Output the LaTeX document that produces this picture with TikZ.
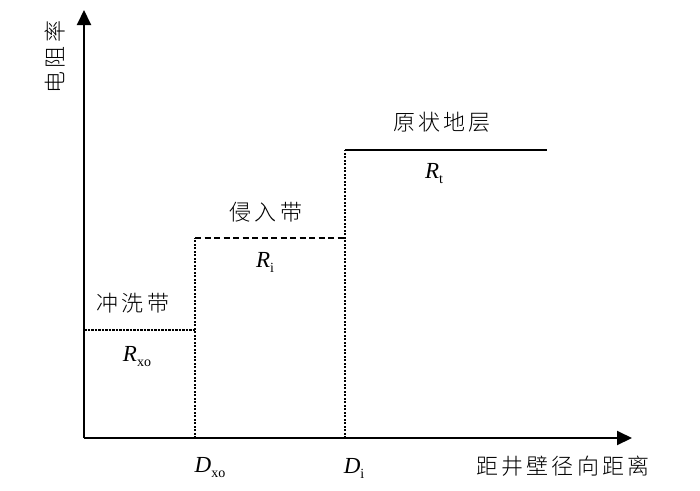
\documentclass[tikz,border=0pt]{standalone}
\usepackage{fontspec}
\setmainfont{Liberation Serif}
\newfontfamily\cjk{Noto Sans CJK SC Light}[LetterSpace=14]
\usetikzlibrary{arrows.meta}
\newcommand{\Rv}[2]{\textit{#1}\raisebox{-5pt}{\fontsize{14}{14}\selectfont #2}}
\begin{document}
\begin{tikzpicture}[x=1pt,y=-1pt,
  axis/.style={line width=2pt,-{Triangle[length=15pt,width=14pt]}},
  lvl/.style={line width=2pt},
  dotv/.style={line width=2.4pt,dash pattern=on 2pt off 1.5pt},
  dashh/.style={line width=2pt,dash pattern=on 6pt off 3.5pt},
  zh/.style={font=\cjk\fontsize{22}{22}\selectfont},
  lab/.style={font=\fontsize{23}{23}\selectfont}]
\useasboundingbox (0,0) rectangle (700,490);
\coordinate (O) at (84,438);
\coordinate (ytip) at (84,10);
\coordinate (xtip) at (632,438);
\draw[axis] (O) -- (ytip);
\draw[axis] (O) -- (xtip);
% levels
\coordinate (a1) at (84,330); \coordinate (a2) at (195,330);
\coordinate (b0) at (195,438); \coordinate (b1) at (195,238); \coordinate (b2) at (345,238);
\coordinate (c0) at (345,438); \coordinate (c1) at (345,150); \coordinate (c2) at (547,150);
\draw[line width=2pt,dash pattern=on 2.5pt off 1pt] (a1) -- (a2);
\draw[dotv] (b0) -- (b1);
\draw[dashh] (b1) -- (b2);
\draw[dotv] (c0) -- (c1);
\draw[lvl] (c1) -- (c2);
% labels
\node[zh] (l1) at (133,303) {冲洗带};
\node[lab] (r1) at (137,357) {\Rv{R}{xo}};
\node[zh] (l2) at (266,212) {侵入带};
\node[lab] (r2) at (265,262) {\Rv{R}{i}};
\node[zh] (l3) at (442,122) {原状地层};
\node[lab] (r3) at (434,174) {\Rv{R}{t}};
\node[lab] (d1) at (210,468) {\Rv{D}{xo}};
\node[lab] (d2) at (354,468) {\Rv{D}{i}};
\node[zh] (xl) at (563,466) {距井壁径向距离};
\node[zh,rotate=90] (yl) at (55,57) {电阻率};
\end{tikzpicture}
\end{document}
